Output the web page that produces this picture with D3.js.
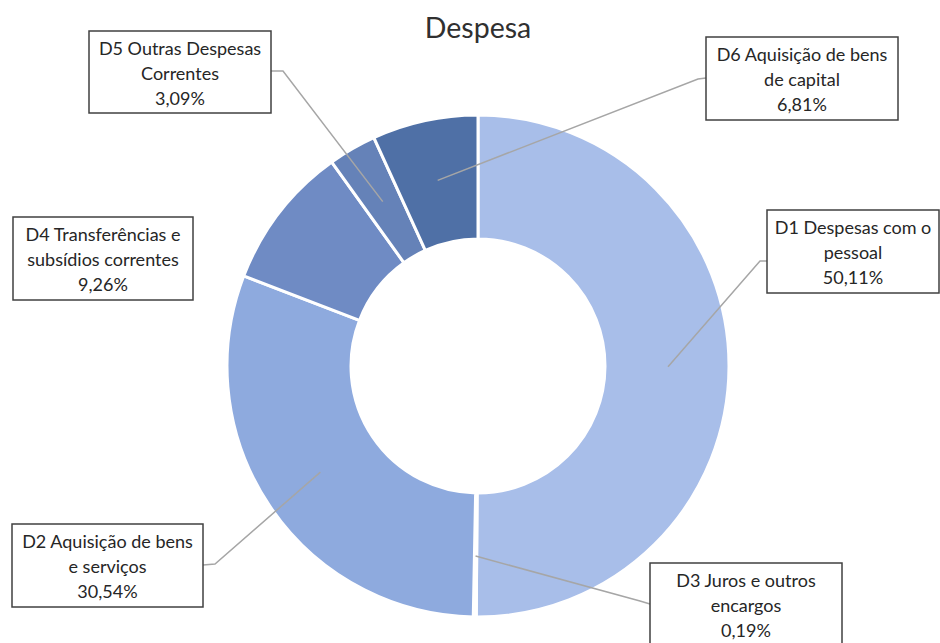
<!DOCTYPE html>
<html>
<head>
<meta charset="utf-8">
<script src="https://cdn.jsdelivr.net/npm/d3@7"></script>
<style>
  html, body { margin: 0; padding: 0; background: #fff; }
  svg { display: block; }
</style>
</head>
<body>
<svg id="chart" width="940" height="643"></svg>
<script>
// ---- data ----
const title = "Despesa";
const categories = ["D1", "D3", "D2", "D4", "D5", "D6"];
const values = [50.11, 0.19, 30.54, 9.26, 3.09, 6.81];
const labelNames = [
  ["D1 Despesas com o", "pessoal"],
  ["D3 Juros e outros", "encargos"],
  ["D2 Aquisição de bens", "e serviços"],
  ["D4 Transferências e", "subsídios correntes"],
  ["D5 Outras Despesas", "Correntes"],
  ["D6 Aquisição de bens", "de capital"]
];
const percentLabels = ["50,11%", "0,19%", "30,54%", "9,26%", "3,09%", "6,81%"];

// ---- styles / layout ----
const colors = ["#a8bee9", "#98b1e2", "#8eaade", "#6f8bc4", "#6582b8", "#4f70a6"];
const boxes = [
  {x0: 767, y0: 210, x1: 939, y1: 293, ax: 767, ay: 261, ex: 760, ey: 261, leader: true},
  {x0: 650, y0: 563, x1: 842, y1: 646, ax: 650, ay: 604, ex: 640, ey: 601, leader: true},
  {x0: 12,  y0: 524, x1: 203, y1: 607, ax: 203, ay: 565, ex: 215, ey: 564, leader: true},
  {x0: 13,  y0: 217, x1: 193, y1: 300, leader: false},
  {x0: 89,  y0: 31,  x1: 271, y1: 113, ax: 271, ay: 71, ex: 283, ey: 71, leader: true},
  {x0: 706, y0: 37,  x1: 898, y1: 120, ax: 706, ay: 78, ex: 698, ey: 79, leader: true}
];

const cx = 478, cy = 366, rOuter = 251, rInner = 127;
const svg = d3.select("#chart");

svg.append("text")
  .attr("x", cx).attr("y", 38)
  .attr("text-anchor", "middle")
  .attr("font-family", "Lato, 'Open Sans', sans-serif")
  .attr("font-size", 28.5)
  .attr("fill", "#303030")
  .text(title);

const data = categories.map((c, i) => ({cat: c, value: values[i], idx: i}));
const pie = d3.pie().sort(null).value(d => d.value);
const arcs = pie(data);
const arc = d3.arc().innerRadius(rInner).outerRadius(rOuter);
const leaderArc = d3.arc().innerRadius(190).outerRadius(190);

const g = svg.append("g").attr("transform", `translate(${cx},${cy})`);
g.selectAll("path.slice")
  .data(arcs)
  .join("path")
  .attr("class", "slice")
  .attr("d", arc)
  .attr("fill", d => colors[d.data.idx])
  .attr("stroke", "#ffffff")
  .attr("stroke-width", 3)
  .attr("stroke-linejoin", "round");

// leader lines
const lg = svg.append("g");
arcs.forEach(a => {
  const b = boxes[a.data.idx];
  if (!b.leader) return;
  const c = leaderArc.centroid(a);
  const px = cx + c[0], py = cy + c[1];
  lg.append("polyline")
    .attr("points", `${px},${py} ${b.ex},${b.ey} ${b.ax},${b.ay}`)
    .attr("fill", "none")
    .attr("stroke", "#a6a6a6")
    .attr("stroke-width", 1.5);
});

// label boxes
const bg = svg.append("g");
arcs.forEach(a => {
  const i = a.data.idx;
  const b = boxes[i];
  bg.append("rect")
    .attr("x", b.x0).attr("y", b.y0)
    .attr("width", b.x1 - b.x0).attr("height", b.y1 - b.y0)
    .attr("fill", "#ffffff")
    .attr("stroke", "#404040")
    .attr("stroke-width", 1.5);
  const lines = labelNames[i].concat([percentLabels[i]]);
  const mx = (b.x0 + b.x1) / 2;
  const t = bg.append("text")
    .attr("text-anchor", "middle")
    .attr("font-family", "Lato, 'Open Sans', sans-serif")
    .attr("font-size", 18)
    .attr("fill", "#262626");
  lines.forEach((ln, k) => {
    t.append("tspan")
      .attr("x", mx)
      .attr("y", b.y0 + 24 + k * 25)
      .text(ln);
  });
});
</script>
</body>
</html>
